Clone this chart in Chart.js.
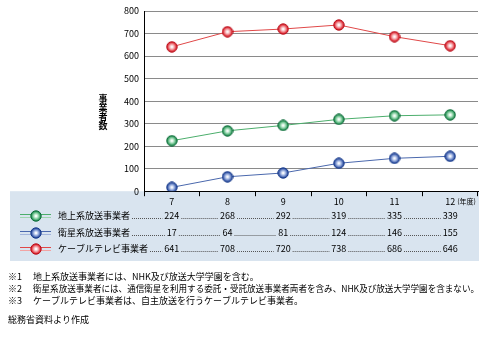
<!DOCTYPE html>
<html lang="ja">
<head>
<meta charset="UTF-8">
<title>放送事業者数の推移</title>
<script src="https://cdn.jsdelivr.net/npm/chart.js@4.4.3/dist/chart.umd.min.js"></script>
<style>
  html, body { margin: 0; padding: 0; background: #fff; }
  #wrap { position: relative; width: 489px; height: 337px; }
</style>
</head>
<body>
<div id="wrap"><canvas id="chart"></canvas></div>
<script>
// データ
const years = ['7', '8', '9', '10', '11', '12'];
const chijou = [224, 268, 292, 319, 335, 339];
const eisei = [17, 64, 81, 124, 146, 155];
const cable = [641, 708, 720, 738, 686, 646];
const seriesNames = ['地上系放送事業者', '衛星系放送事業者', 'ケーブルテレビ事業者'];
const yTitle = '事業者数';
const yearUnit = '(年度)';
const notes = [
  ['※1', '地上系放送事業者には、NHK及び放送大学学園を含む。'],
  ['※2', '衛星系放送事業者には、通信衛星を利用する委託・受託放送事業者両者を含み、NHK及び放送大学学園を含まない。'],
  ['※3', 'ケーブルテレビ事業者は、自主放送を行うケーブルテレビ事業者。']
];
const source = '総務省資料より作成';

const FONT = '"Noto Sans CJK JP", "Noto Sans", sans-serif';

// 立体的な丸マーカー
function makeBall(edge, mid, light) {
  const c = document.createElement('canvas');
  c.width = 12; c.height = 12;
  const g = c.getContext('2d');
  const grad = g.createRadialGradient(6, 6, 0.5, 6, 6, 5.5);
  grad.addColorStop(0, '#ffffff');
  grad.addColorStop(0.35, light);
  grad.addColorStop(0.8, mid);
  grad.addColorStop(1, edge);
  g.beginPath();
  g.arc(6, 6, 5.2, 0, Math.PI * 2);
  g.fillStyle = grad;
  g.fill();
  g.lineWidth = 1;
  g.strokeStyle = edge;
  g.stroke();
  return c;
}

const styles = [
  { line: '#4cae6c', lite: '#9fd6b0', ball: makeBall('#0e6b3a', '#2f9a5c', '#a8e0bc') },
  { line: '#4a68ad', lite: '#a3b5dc', ball: makeBall('#173a8a', '#3556a6', '#a9bce6') },
  { line: '#e04848', lite: '#f2a4a4', ball: makeBall('#b8101c', '#e02a34', '#f6b0b4') }
];
const seriesData = [chijou, eisei, cable];

const rowY = [216, 233, 249];

const tablePlugin = {
  id: 'tablePlugin',
  beforeDraw(chart) {
    const ctx = chart.ctx;
    const area = chart.chartArea;
    ctx.save();
    ctx.fillStyle = '#d9e4ef';
    ctx.fillRect(10, area.bottom, 469, 261 - area.bottom);
    ctx.restore();
  },
  afterDraw(chart) {
    const ctx = chart.ctx;
    const xs = chart.scales.x;
    ctx.save();

    // 縦書きの軸タイトル
    ctx.fillStyle = '#000';
    ctx.font = 'bold 9px ' + FONT;
    ctx.textAlign = 'center';
    ctx.textBaseline = 'middle';
    [...yTitle].forEach((ch, i) => ctx.fillText(ch, 103, 99 + i * 9));

    // (年度)
    ctx.font = '7px ' + FONT;
    ctx.textAlign = 'left';
    ctx.fillText(yearUnit, xs.getPixelForValue(5) + 7, 201);

    // 表
    seriesNames.forEach((name, i) => {
      const y = rowY[i];
      const st = styles[i];
      ctx.lineWidth = 1;
      ctx.strokeStyle = st.line;
      ctx.beginPath(); ctx.moveTo(20, y - 1.5); ctx.lineTo(51, y - 1.5); ctx.stroke();
      ctx.strokeStyle = st.lite;
      ctx.beginPath(); ctx.moveTo(20, y + 1.5); ctx.lineTo(51, y + 1.5); ctx.stroke();
      ctx.drawImage(st.ball, 30, y - 6);

      ctx.fillStyle = '#000';
      ctx.font = '9px ' + FONT;
      ctx.textAlign = 'left';
      ctx.textBaseline = 'middle';
      ctx.fillText(name, 58, y);
      let prevEnd = 58 + ctx.measureText(name).width + 2;

      seriesData[i].forEach((v, j) => {
        const cx = xs.getPixelForValue(j);
        const txt = String(v);
        const w = ctx.measureText(txt).width;
        ctx.textAlign = 'center';
        ctx.fillText(txt, cx, y);
        // 点線リーダー
        ctx.strokeStyle = '#555';
        ctx.setLineDash([1, 1]);
        ctx.beginPath();
        ctx.moveTo(prevEnd, y + 2.5);
        ctx.lineTo(cx - w / 2 - 2, y + 2.5);
        ctx.stroke();
        ctx.setLineDash([]);
        prevEnd = cx + w / 2 + 2;
      });
    });

    // 注記
    ctx.fillStyle = '#000';
    ctx.font = '9px ' + FONT;
    ctx.textAlign = 'left';
    ctx.textBaseline = 'middle';
    notes.forEach((n, i) => {
      const y = 277 + i * 12;
      ctx.fillText(n[0], 8, y);
      ctx.fillText(n[1], 33, y, 446);
    });
    ctx.fillText(source, 8, 320);
    ctx.restore();
  }
};

new Chart(document.getElementById('chart'), {
  type: 'line',
  data: {
    labels: years,
    datasets: seriesNames.map((name, i) => ({
      label: name,
      data: seriesData[i],
      borderColor: styles[i].line,
      borderWidth: 1,
      pointStyle: styles[i].ball,
      pointRadius: 5,
      fill: false,
      tension: 0
    }))
  },
  options: {
    responsive: true,
    maintainAspectRatio: false,
    animation: false,
    layout: { padding: { left: 0, right: 11, top: 11, bottom: 130 } },
    plugins: {
      legend: { display: false },
      tooltip: { enabled: false }
    },
    scales: {
      x: {
        offset: true,
        grid: { offset: true, drawOnChartArea: false, drawTicks: true, tickLength: 5, color: '#000' },
        border: { color: '#000' },
        ticks: { color: '#000', padding: 0, maxRotation: 0, font: { size: 9, family: FONT } }
      },
      y: {
        min: 0,
        max: 800,
        ticks: { stepSize: 100, color: '#000', padding: 5, font: { size: 9, family: FONT } },
        grid: { color: '#8a8a8a', drawTicks: false },
        border: { color: '#000' },
        afterFit(scale) { scale.width = 144; }
      }
    }
  },
  plugins: [tablePlugin]
});
</script>
</body>
</html>
